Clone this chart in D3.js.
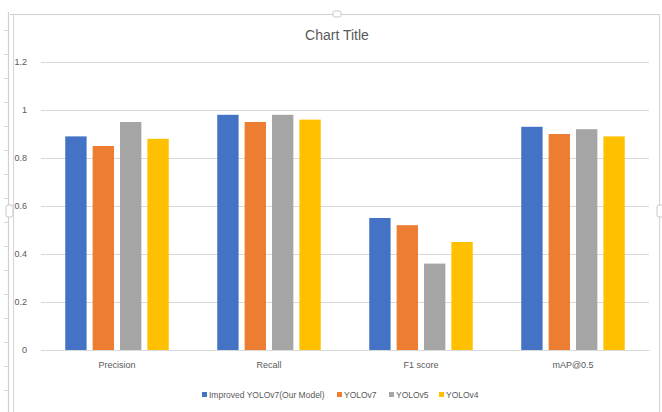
<!DOCTYPE html>
<html>
<head>
<meta charset="utf-8">
<script src="https://cdn.jsdelivr.net/npm/d3@7"></script>
<style>
  html, body { margin: 0; padding: 0; background: #fff; }
  svg { display: block; }
  text { font-family: "Liberation Sans", Arial, sans-serif; }
</style>
</head>
<body>
<svg id="chart" width="662" height="412"></svg>
<script>
// Metrics compared across detectors
const categories = ["Precision", "Recall", "F1 score", "mAP@0.5"];
const seriesNames = ["Improved YOLOv7(Our Model)", "YOLOv7", "YOLOv5", "YOLOv4"];
const improvedYolov7 = [0.89, 0.98, 0.55, 0.93];
const yolov7 = [0.85, 0.95, 0.52, 0.90];
const yolov5 = [0.95, 0.98, 0.36, 0.92];
const yolov4 = [0.88, 0.96, 0.45, 0.89];
const yTicks = [0, 0.2, 0.4, 0.6, 0.8, 1, 1.2];
const colors = ["#4472C4", "#ED7D31", "#A5A5A5", "#FFC000"];

const seriesValues = [improvedYolov7, yolov7, yolov5, yolov4];

const svg = d3.select("#chart");
const W = 662, H = 412;

// Chart frame (selection border with handles)
const frame = svg.append("g");
frame.append("line").attr("x1", 10).attr("x2", 659).attr("y1", 14.5).attr("y2", 14.5)
  .attr("stroke", "#d0d0d0").attr("stroke-width", 1.2);
frame.append("line").attr("x1", 8.5).attr("x2", 8.5).attr("y1", 12).attr("y2", H)
  .attr("stroke", "#d0d0d0").attr("stroke-width", 1.2);
frame.append("line").attr("x1", 13.5).attr("x2", 13.5).attr("y1", 14).attr("y2", H)
  .attr("stroke", "#d8d8d8").attr("stroke-width", 1.2);
frame.append("line").attr("x1", 659.5).attr("x2", 659.5).attr("y1", 14).attr("y2", H)
  .attr("stroke", "#d8d8d8").attr("stroke-width", 1.2);
d3.range(30, H, 24).forEach(y => {
  frame.append("line").attr("x1", 4).attr("x2", 8).attr("y1", y + 0.5).attr("y2", y + 0.5)
    .attr("stroke", "#d8d8d8");
});
frame.append("rect").attr("x", 333).attr("y", 11).attr("width", 8).attr("height", 6).attr("rx", 2)
  .attr("fill", "#fff").attr("stroke", "#c8c8c8");
frame.append("rect").attr("x", 6).attr("y", 205).attr("width", 7).attr("height", 12).attr("rx", 2)
  .attr("fill", "#fff").attr("stroke", "#c8c8c8");
frame.append("rect").attr("x", 657).attr("y", 205).attr("width", 7).attr("height", 12).attr("rx", 2)
  .attr("fill", "#fff").attr("stroke", "#c8c8c8");

// Title
svg.append("text").attr("x", 337).attr("y", 40).attr("text-anchor", "middle")
  .attr("font-size", 14).attr("fill", "#595959").text("Chart Title");

// Scales
const plot = { left: 41, right: 649, top: 62, bottom: 350 };
const y = d3.scaleLinear().domain([0, 1.2]).range([plot.bottom, plot.top]);
const x0 = d3.scaleBand().domain(categories).range([plot.left, plot.right]).padding(0);
const x1 = d3.scaleBand().domain(d3.range(seriesNames.length))
  .range([0, x0.bandwidth()]).paddingInner(0.22).paddingOuter(0.885);

// Gridlines + y axis labels
const yAxis = d3.axisLeft(y).tickValues(yTicks).tickSize(-(plot.right - plot.left))
  .tickFormat(d => d3.format("~g")(d)).tickPadding(14);
const gy = svg.append("g").attr("transform", `translate(${plot.left},0)`).call(yAxis);
gy.select(".domain").remove();
gy.selectAll(".tick line").attr("stroke", "#d9d9d9").attr("stroke-width", 1);
gy.selectAll(".tick text").attr("font-size", 9).attr("fill", "#595959")
  .attr("font-family", "Liberation Sans, Arial, sans-serif");

// Bars
const groups = svg.append("g").selectAll("g").data(categories).join("g")
  .attr("transform", d => `translate(${x0(d)},0)`);
groups.selectAll("rect")
  .data((c, ci) => seriesValues.map((vals, si) => ({ si, v: vals[ci] })))
  .join("rect")
  .attr("x", d => x1(d.si))
  .attr("width", x1.bandwidth())
  .attr("y", d => y(d.v))
  .attr("height", d => y(0) - y(d.v))
  .attr("fill", d => colors[d.si]);

// Category axis
const xAxis = d3.axisBottom(x0).tickSize(0).tickPadding(12);
const gx = svg.append("g").attr("transform", `translate(0,${plot.bottom})`).call(xAxis);
gx.select(".domain").attr("stroke", "#d9d9d9");
gx.selectAll(".tick text").attr("font-size", 9).attr("fill", "#595959")
  .attr("font-family", "Liberation Sans, Arial, sans-serif");

// Legend
const legendX = [202, 337, 389, 439];
const legend = svg.append("g").attr("transform", "translate(0,395)");
seriesNames.forEach((name, i) => {
  legend.append("rect").attr("x", legendX[i]).attr("y", -3).attr("width", 5).attr("height", 5)
    .attr("fill", colors[i]);
  legend.append("text").attr("x", legendX[i] + 7).attr("y", 3)
    .attr("font-size", 8.5).attr("fill", "#595959").text(name);
});
</script>
</body>
</html>
